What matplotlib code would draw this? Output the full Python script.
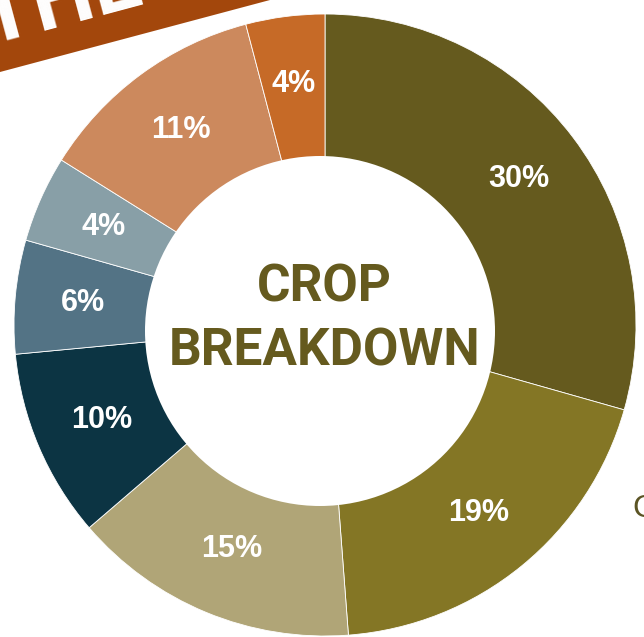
import matplotlib
matplotlib.use("Agg")
import matplotlib.pyplot as plt
from matplotlib.patches import Circle, Polygon

# crop shares, clockwise from the top (wedge sizes read off the ring,
# printed labels as shown on the chart)
shares = [29.4, 19.4, 14.9, 9.8, 5.9, 4.5, 12.0, 4.1]
pct_labels = ["30%", "19%", "15%", "10%", "6%", "4%", "11%", "4%"]
colors = ["#655a1e", "#847625", "#b0a577", "#0c3443",
          "#537385", "#889fa7", "#cc895d", "#c66a27"]

W, H = 644, 637
fig = plt.figure(figsize=(W / 100, H / 100), dpi=100)
ax = fig.add_axes([0, 0, 1, 1])

wedges, texts = ax.pie(shares, labels=pct_labels, colors=colors,
                       center=(325, H - 325), radius=311,
                       startangle=90, counterclock=False,
                       labeldistance=0.78,
                       wedgeprops=dict(edgecolor="white", linewidth=0.6),
                       textprops=dict(color="white", fontsize=22,
                                      family=["Liberation Sans", "DejaVu Sans"],
                                      fontweight="bold"))
for t in texts:
    t.set_ha("center")
    t.set_va("center")

# donut hole (sits slightly off the ring's centre)
ax.add_patch(Circle((320, H - 331), 175, facecolor="white", edgecolor="none", zorder=3))

title_font = ["Roboto", "DejaVu Sans"]
ax.text(324, H - 302, "CROP", ha="center", va="baseline", fontsize=37,
        fontweight="bold", color="#655a1e", family=title_font, zorder=4)
ax.text(325, H - 366, "BREAKDOWN", ha="center", va="baseline", fontsize=37,
        fontweight="bold", color="#655a1e", family=title_font, zorder=4)

# banner peeking in at the top-left corner
banner = Polygon([(0, H), (0, H - 72), (270, H)], closed=True,
                 facecolor="#a3470c", edgecolor="none", zorder=5)
ax.add_patch(banner)
bt = ax.text(-12, H - 46, "THE FIELD", rotation=15, rotation_mode="anchor",
             ha="left", va="baseline", fontsize=62, fontweight="bold",
             color="white", family=title_font, zorder=6)
bt.set_clip_path(banner)

# legend entry cut off at the right edge
ax.text(632, H - 509, "Corn", ha="left", va="center", fontsize=23,
        color="#5b5424", family=["Liberation Sans", "DejaVu Sans"], zorder=4)

ax.set_xlim(0, W)
ax.set_ylim(0, H)
ax.set_aspect("equal")
ax.axis("off")

fig.savefig("out.png", dpi=100, facecolor="white")
